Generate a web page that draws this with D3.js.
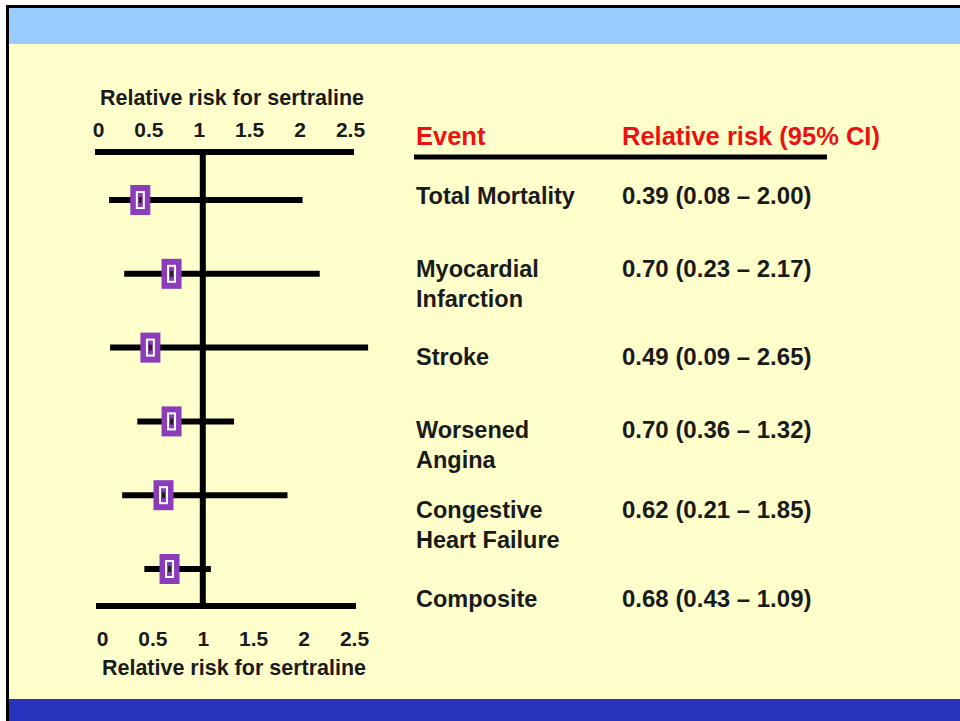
<!DOCTYPE html>
<html>
<head>
<meta charset="utf-8">
<script src="https://cdn.jsdelivr.net/npm/d3@7"></script>
<style>
  body { margin: 0; background: #fff; }
  text { font-family: "Liberation Sans", Arial, sans-serif; font-weight: bold; }
</style>
</head>
<body>
<svg id="chart"></svg>
<script>
// data
const events = ["Total Mortality", "Myocardial\nInfarction", "Stroke", "Worsened\nAngina", "Congestive\nHeart Failure", "Composite"];
const rr = [0.39, 0.70, 0.49, 0.70, 0.62, 0.68];
const ciLow = [0.08, 0.23, 0.09, 0.36, 0.21, 0.43];
const ciHigh = [2.00, 2.17, 2.65, 1.32, 1.85, 1.09];
const ticks = [0, 0.5, 1, 1.5, 2, 2.5];
const axisTitle = "Relative risk for sertraline";

const width = 960, height = 721;
const svg = d3.select("#chart").attr("width", width).attr("height", height);

// slide frame
svg.append("rect").attr("x", 6).attr("y", 5).attr("width", width - 6).attr("height", height - 5).attr("fill", "#000");
svg.append("rect").attr("x", 9).attr("y", 8).attr("width", width - 9).attr("height", height - 8).attr("fill", "#ffffcc");
svg.append("rect").attr("x", 9).attr("y", 8).attr("width", width - 9).attr("height", 36).attr("fill", "#99ccff");
svg.append("rect").attr("x", 9).attr("y", 699).attr("width", width - 9).attr("height", 22).attr("fill", "#2634bd");

const data = events.map((e, i) => ({event: e, rr: rr[i], lo: ciLow[i], hi: ciHigh[i]}));

const x = d3.scaleLinear().domain([0, 2.5]).range([101, 353]);
const y = d3.scalePoint().domain(events).range([200, 569]);
const topY = 152, bottomY = 606;

// axis tick labels
const topAxis = svg.append("g")
    .attr("transform", "translate(-3," + 137 + ")")
    .call(d3.axisTop(x).tickValues(ticks).tickSize(0).tickPadding(0).tickFormat(d3.format("")));
const bottomAxis = svg.append("g")
    .attr("transform", "translate(1," + 631 + ")")
    .call(d3.axisBottom(x).tickValues(ticks).tickSize(0).tickPadding(0).tickFormat(d3.format("")));
[topAxis, bottomAxis].forEach(g => {
    g.select(".domain").remove();
    g.selectAll("text")
        .style("font-family", "'Liberation Sans', Arial, sans-serif")
        .style("font-weight", "bold")
        .style("font-size", "21px")
        .attr("fill", "#1a1a1a");
});

svg.append("text").attr("x", 232).attr("y", 105).attr("text-anchor", "middle")
    .attr("font-size", 21.5).attr("fill", "#1a1a1a").text(axisTitle);
svg.append("text").attr("x", 234).attr("y", 675).attr("text-anchor", "middle")
    .attr("font-size", 21.5).attr("fill", "#1a1a1a").text(axisTitle);

// frame lines
svg.append("line").attr("x1", x(0) - 6).attr("x2", x(2.5) + 1).attr("y1", topY).attr("y2", topY)
    .attr("stroke", "#000").attr("stroke-width", 6);
svg.append("line").attr("x1", x(0) - 5).attr("x2", x(2.5) + 3).attr("y1", bottomY).attr("y2", bottomY)
    .attr("stroke", "#000").attr("stroke-width", 6);
svg.append("line").attr("x1", x(1) + 1).attr("x2", x(1) + 1).attr("y1", topY).attr("y2", bottomY)
    .attr("stroke", "#000").attr("stroke-width", 6);

// CI bars
svg.selectAll(".ci").data(data).enter().append("line")
    .attr("class", "ci")
    .attr("x1", d => x(d.lo)).attr("x2", d => x(d.hi))
    .attr("y1", d => y(d.event)).attr("y2", d => y(d.event))
    .attr("stroke", "#000").attr("stroke-width", 6);

// point estimate markers
const mk = svg.selectAll(".mk").data(data).enter().append("g")
    .attr("class", "mk")
    .attr("transform", d => "translate(" + x(d.rr) + "," + y(d.event) + ")");
mk.append("rect").attr("x", -10).attr("y", -15).attr("width", 20).attr("height", 30)
    .attr("fill", "#8b3cba");
mk.append("rect").attr("x", -3.5).attr("y", -8).attr("width", 7).attr("height", 16)
    .attr("fill", "none").attr("stroke", "#fff").attr("stroke-width", 2);
mk.append("rect").attr("x", -1.5).attr("y", -3).attr("width", 3).attr("height", 6)
    .attr("fill", "#222");

// table
svg.append("text").attr("x", 416).attr("y", 145).attr("font-size", 25.5).attr("fill", "#ee1111").text("Event");
svg.append("text").attr("x", 622).attr("y", 145).attr("font-size", 25.5).attr("fill", "#ee1111").text("Relative risk (95% CI)");
svg.append("line").attr("x1", 414).attr("x2", 827).attr("y1", 157).attr("y2", 157)
    .attr("stroke", "#000").attr("stroke-width", 5);

const ty = d3.scalePoint().domain(events).range([204, 607]);
const fmt = d3.format(".2f");
const rows = svg.selectAll(".row").data(data).enter().append("g").attr("class", "row");
rows.each(function(d) {
    const lines = d.event.split("\n");
    const y0 = lines.length > 1 ? ty(d.event) - 8 : ty(d.event);
    const g = d3.select(this);
    lines.forEach((l, k) => {
        g.append("text").attr("x", 416).attr("y", y0 + k * 30)
            .attr("font-size", 23.5).attr("fill", "#1a1a1a").text(l);
    });
    g.append("text").attr("x", 622).attr("y", y0).attr("font-size", 24).attr("fill", "#1a1a1a")
        .text(fmt(d.rr) + " (" + fmt(d.lo) + " \u2013 " + fmt(d.hi) + ")");
});
</script>
</body>
</html>
